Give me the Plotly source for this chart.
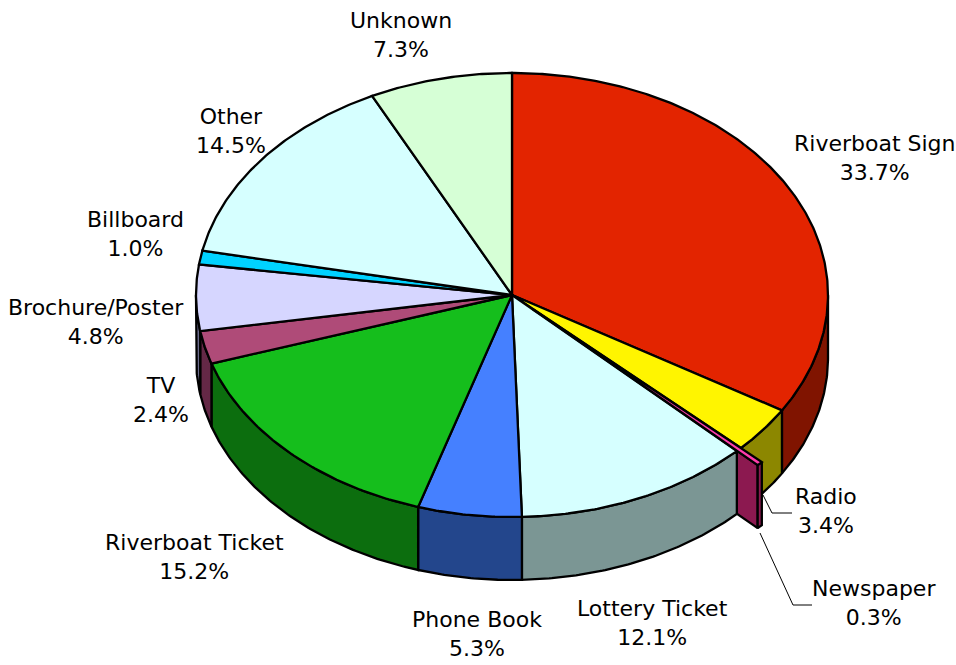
import numpy as np
import plotly.graph_objects as go

# ---------------- data ----------------
categories = ["Riverboat Sign", "Radio", "Newspaper", "Lottery Ticket", "Phone Book",
              "Riverboat Ticket", "TV", "Brochure/Poster", "Billboard", "Other", "Unknown"]
percent = [33.7, 3.4, 0.3, 12.1, 5.3, 15.2, 2.4, 4.8, 1.0, 14.5, 7.3]

# ---------------- styles ----------------
top_colors = ["#E32400", "#FFF500", "#FF3CAA", "#D6FFFF", "#4580FF",
              "#15BE1C", "#AF4B78", "#D6D6FF", "#00D2FF", "#D6FFFF", "#D6FFD6"]
side_colors = ["#801400", "#8C8700", "#8C1950", "#7B9694", "#23468C",
               "#0C6E0E", "#642846", "#6B6B8C", "#00698C", "#7B9694", "#6B8C6B"]
explode = [0, 0, 29, 0, 0, 0, 0, 0, 0, 0, 0]

label_xy = [(875, 158), (826, 511), (874, 603), (652, 623), (477, 634), (194, 557),
            (161, 400), (96, 322), (135, 234), (231, 131), (401, 35)]
leaders = [[(763, 495), (772, 513), (792, 513)],
           [(760, 533), (793, 605), (812, 605)]]

W, H = 956, 665
CX, CY, RX, RY, DEPTH = 512, 295, 316, 222, 63
LINE = dict(color="black", width=2.3)
FONT = dict(family="DejaVu Sans", size=22, color="#000000")

# ---------------- geometry from data ----------------
total = sum(percent)
bounds = np.cumsum([0] + percent) / total * 360.0


def pt(t, dx=0.0, dy=0.0, down=0.0):
    r = np.radians(t)
    return CX + dx + RX * np.sin(r), CY + dy - RY * np.cos(r) + down


def arc(t0, t1, dx=0.0, dy=0.0, down=0.0):
    n = max(3, int(abs(t1 - t0) * 2) + 2)
    ts = np.linspace(t0, t1, n)
    xs, ys = pt(ts, dx, dy, down)
    return list(xs), list(ys)


def offset(i):
    tm = np.radians((bounds[i] + bounds[i + 1]) / 2)
    d = explode[i]
    return d * np.sin(tm), -d * np.cos(tm) * RY / RX


fig = go.Figure()


def poly(xs, ys, color):
    fig.add_trace(go.Scatter(x=xs + [xs[0]], y=ys + [ys[0]], mode="lines", fill="toself",
                             fillcolor=color, line=LINE, hoverinfo="skip", showlegend=False))


def wall(i):
    t0, t1 = bounds[i], bounds[i + 1]
    a, b = max(t0, 90), min(t1, 270)
    if a >= b:
        return
    dx, dy = offset(i)
    tx, ty = arc(a, b, dx, dy)
    bx, by = arc(b, a, dx, dy, DEPTH)
    poly(tx + bx, ty + by, side_colors[i])


def radial_face(i, t):
    dx, dy = offset(i)
    ex, ey = pt(t, dx, dy)
    cx, cy = CX + dx, CY + dy
    poly([cx, ex, ex, cx], [cy, ey, ey + DEPTH, cy + DEPTH], side_colors[i])


def top(i):
    dx, dy = offset(i)
    xs, ys = arc(bounds[i], bounds[i + 1], dx, dy)
    poly([CX + dx] + xs, [CY + dy] + ys, top_colors[i])


exploded = [i for i in range(len(percent)) if explode[i] > 0]
# walls of slices before the exploded one, then exploded walls, then the rest
for i in range(len(percent)):
    if i not in exploded and all(i < j for j in exploded):
        wall(i)
for j in exploded:
    radial_face(j, bounds[j + 1])
    wall(j)
for i in range(len(percent)):
    if i not in exploded and not all(i < j for j in exploded):
        wall(i)
for i in range(len(percent)):
    if i not in exploded:
        top(i)
for j in exploded:
    top(j)

# ---------------- labels ----------------
for name, p, (lx, ly) in zip(categories, percent, label_xy):
    fig.add_annotation(x=lx, y=ly, xref="x", yref="y", text=f"{name}<br>{p:.1f}%",
                       showarrow=False, font=FONT, align="center",
                       xanchor="center", yanchor="middle")

for ld in leaders:
    path = "M " + " L ".join(f"{x},{y}" for x, y in ld)
    fig.add_shape(type="path", path=path, xref="x", yref="y",
                  line=dict(color="black", width=1))

fig.update_layout(
    width=W, height=H, margin=dict(l=0, r=0, t=0, b=0),
    paper_bgcolor="white", plot_bgcolor="white",
    xaxis=dict(range=[0, W], visible=False, fixedrange=True),
    yaxis=dict(range=[H, 0], visible=False, fixedrange=True),
)

fig.write_html("out.html")
